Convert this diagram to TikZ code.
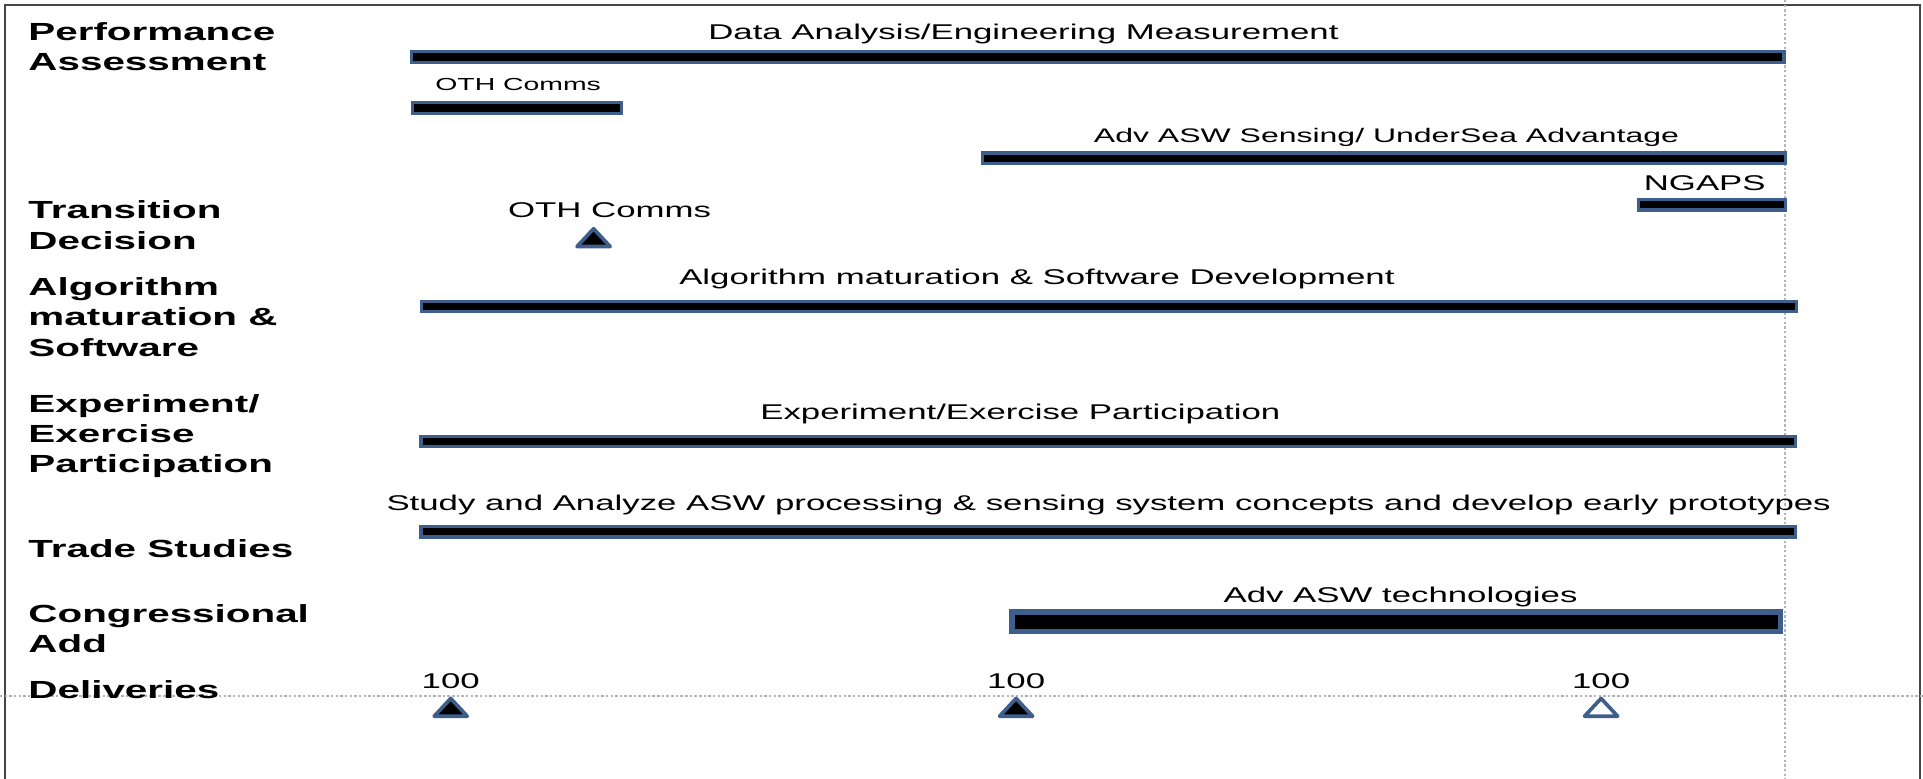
\documentclass[tikz,border=0pt]{standalone}
\usepackage{fontspec}
\setmainfont{Liberation Sans}[FakeStretch=1.63]
\definecolor{barblue}{RGB}{62,94,140}
\definecolor{gridgray}{RGB}{180,180,180}
\definecolor{framegray}{RGB}{70,70,70}
\begin{document}
\begin{tikzpicture}[x=1pt,y=-1pt,
  lbl/.style={anchor=north west, inner sep=0pt, align=left, font=\fontsize{20.2}{24.8}\selectfont\bfseries},
  txt/.style={anchor=base, inner sep=0pt, font=\fontsize{17.4}{20}\selectfont},
  smalltxt/.style={anchor=base, inner sep=0pt, font=\fontsize{14.2}{17}\selectfont},
  bar/.style={rectangle, draw=barblue, fill=black, line width=2.6pt, minimum height=8.6pt, inner sep=0pt},
  bigbar/.style={rectangle, draw=barblue, fill=black, line width=4.3pt, minimum height=16pt, inner sep=0pt},
  filledtri/.style={draw=barblue, fill=black, line width=3pt, line join=round},
  opentri/.style={draw=barblue, fill=white, line width=3pt, line join=round},
  gridline/.style={draw=gridgray, line width=1.2pt, dash pattern=on 2pt off 1.8pt}
]
\useasboundingbox (0,0) rectangle (1568,635);
\fill[white] (0,0) rectangle (1568,635);

% frame
\draw[framegray, line width=1.6pt] (4,640) -- (4,4) -- (1565.5,4) -- (1565.5,640);

% grid lines
\draw[gridline] (1455.5,0) -- (1455.5,635);
\draw[gridline] (0,567.5) -- (1568,567.5);

% row labels
\node[lbl] (lPerf) at (23,18.1) {Performance\\Assessment};
\node[lbl] (lTrans) at (23,163.5) {Transition\\Decision};
\node[lbl] (lAlg) at (23,226) {Algorithm\\maturation \&\\Software};
\node[lbl] (lExp) at (23,321.2) {Experiment/\\Exercise\\Participation};
\node[lbl] (lTrade) at (23,439.5) {Trade Studies};
\node[lbl] (lCong) at (23,492.5) {Congressional\\Add};
\node[lbl] (lDel) at (23,555) {Deliveries};

% bars
\node[bar, minimum width=1119.4pt] (b1) at (895,46.5) {};
\node[bar, minimum width=170.4pt] (b2) at (421.5,88) {};
\node[bar, minimum width=654.4pt] (b3) at (1128.5,129) {};
\node[bar, minimum width=119.4pt] (b4) at (1396,167) {};
\node[bar, minimum width=1120.9pt] (b6) at (904.25,250) {};
\node[bar, minimum width=1120.4pt] (b7) at (903.5,360) {};
\node[bar, minimum width=1120.4pt] (b8) at (903.5,433.5) {};
\node[bigbar, minimum width=626.7pt] (b9) at (1138.5,507) {};

% bar labels
\node[txt] (t1) at (834.5,32) {Data Analysis/Engineering Measurement};
\node[smalltxt] (t2) at (422.5,74) {OTH Comms};
\node[txt, font=\fontsize{16}{19}\selectfont] (t3) at (1130.5,116.4) {Adv ASW Sensing/ UnderSea Advantage};
\node[txt] (t4) at (1390,155.5) {NGAPS};
\node[txt] (t5) at (497,177.5) {OTH Comms};
\node[txt] (t6) at (845.5,232) {Algorithm maturation \& Software Development};
\node[txt] (t7) at (832,342) {Experiment/Exercise Participation};
\node[txt] (t8) at (904,416.5) {Study and Analyze ASW processing \& sensing system concepts and develop early prototypes};
\node[txt] (t9) at (1142,491.4) {Adv ASW technologies};

% milestones
\draw[filledtri] (470.5,201) -- (484,186.5) -- (497.5,201) -- cycle;

\node[txt] (d1) at (367.5,561) {100};
\node[txt] (d2) at (828.5,561) {100};
\node[txt] (d3) at (1305.5,561) {100};
\draw[filledtri] (354,584) -- (367.5,569.5) -- (381,584) -- cycle;
\draw[filledtri] (815,584) -- (828.5,569.5) -- (842,584) -- cycle;
\draw[opentri] (1292,584) -- (1305.5,569.5) -- (1319,584) -- cycle;
\end{tikzpicture}
\end{document}
